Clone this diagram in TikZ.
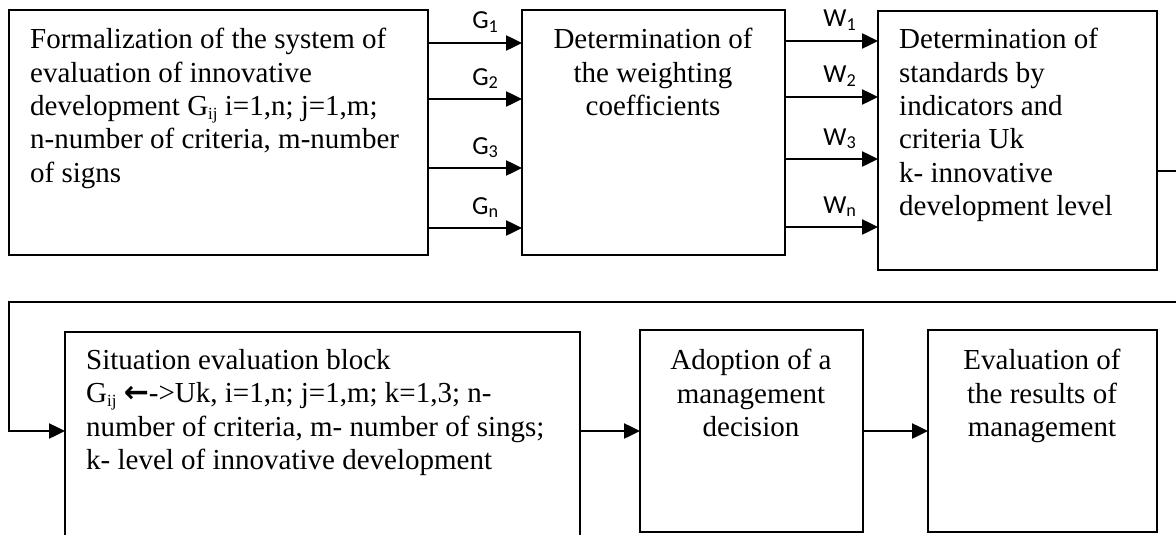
\documentclass[tikz,border=0pt]{standalone}
\usepackage{fontspec}
\setmainfont{Liberation Serif}
\newfontfamily\labfont{Carlito}
\newfontfamily\symfont{DejaVu Sans}
\usetikzlibrary{arrows.meta}
\newcommand\sbij{\raisebox{-0.3ex}{\fontsize{17}{17}\selectfont ij}}
\newcommand\larr{{\symfont\bfseries\fontsize{30}{30}\selectfont ←}}
\begin{document}
\begin{tikzpicture}[x=1pt,y=-1pt,
  box/.style={draw, line width=1.5pt, inner sep=0pt, outer sep=0pt, anchor=north west},
  txt/.style={inner sep=0pt, font=\fontsize{29}{33.4}\selectfont},
  arr/.style={line width=2.5pt, -{Triangle[length=16pt,width=15pt]}},
  lab/.style={font=\labfont\fontsize{26}{26}\selectfont, inner sep=0pt, anchor=base}]
\useasboundingbox (0,0) rectangle (1176,535);
% boxes
\node[box, minimum width=419pt, minimum height=245pt] (b1) at (9,10) {};
\node[box, minimum width=263pt, minimum height=245pt] (b2) at (522,10) {};
\node[box, minimum width=279pt, minimum height=259pt] (b3) at (878,11) {};
\node[inner sep=0pt, outer sep=0pt, anchor=north west, minimum width=515pt, minimum height=203pt] (b4) at (65,332) {};
\draw[line width=1.5pt] (b4.south west) -- (b4.north west) -- (b4.north east) -- (b4.south east);
\node[box, minimum width=223pt, minimum height=202pt] (b5) at (640,330) {};
\node[box, minimum width=229pt, minimum height=202pt] (b6) at (928,330) {};
% texts
\node[txt, anchor=north west, align=left] (t1) at (30,28) {Formalization of the system of\\evaluation of innovative\\development G\sbij{} i=1,n; j=1,m;\\n-number of criteria, m-number\\of signs};
\node[txt, anchor=north, align=center] (t2) at (653,28) {Determination of\\the weighting\\coefficients};
\node[txt, anchor=north west, align=left] (t3) at (899,28) {Determination of\\standards by\\indicators and\\criteria Uk\\k- innovative\\development level};
\node[txt, anchor=north west, align=left] (t4) at (86,349) {Situation evaluation block\\G\sbij{} \larr->Uk, i=1,n; j=1,m; k=1,3; n-\\number of criteria, m- number of sings;\\k- level of innovative development};
\node[txt, anchor=north, align=center] (t5) at (751,349) {Adoption of a\\management\\decision};
\node[txt, anchor=north, align=center] (t6) at (1042,349) {Evaluation of\\the results of\\management};
% G arrows
\foreach \y/\s/\n in {43/1/g1, 99/2/g2, 168/3/g3, 228/n/gn}{
  \draw[arr] (b1.east |- 0,\y) -- (b2.west |- 0,\y)
    node[lab, pos=0.61, yshift=14pt] (\n) {G\textsubscript{\s}};
}
% W arrows
\foreach \y/\s/\n in {41/1/w1, 97/2/w2, 159/3/w3, 227/n/wn}{
  \draw[arr] (b2.east |- 0,\y) -- (b3.west |- 0,\y)
    node[lab, pos=0.59, yshift=14pt] (\n) {W\textsubscript{\s}};
}
% feedback line
\coordinate (r1) at (1176,171);
\coordinate (r2) at (1176,302);
\coordinate (l2) at (9,302);
\draw[line width=2.5pt] (b3.east |- r1) -- (r1);
\draw[arr] (r2) -- (l2) |- (b4.west |- b5.west);
\draw[arr] (b4.east |- b5.west) -- (b5.west);
\draw[arr] (b5.east) -- (b6.west);
\end{tikzpicture}
\end{document}
